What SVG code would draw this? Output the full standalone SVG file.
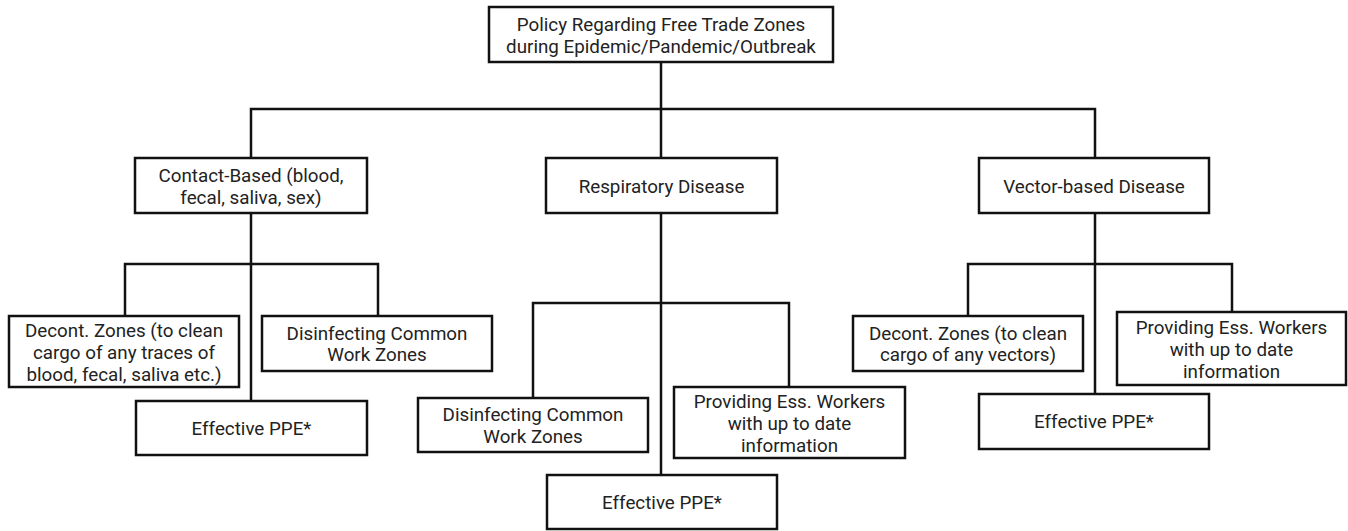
<svg xmlns="http://www.w3.org/2000/svg" width="1348" height="531" viewBox="0 0 1348 531">
  <style>
    .box { fill: #ffffff; stroke: #111111; stroke-width: 2.5; }
    .lbl { font-family: Roboto, "Liberation Sans", sans-serif; font-size: 18.8px; fill: #222222; text-anchor: middle; }
    .wire { fill: none; stroke: #111111; stroke-width: 2.5; stroke-linecap: square; }
  </style>
  <rect width="1348" height="531" fill="#ffffff"/>

  <!-- tree connectors -->
  <g id="connectors">
    <!-- root to categories -->
    <path class="wire" d="M661 62 V109 M251 109 H1095 M251 109 V158 M661 109 V158 M1095 109 V158"/>
    <!-- contact-based branch -->
    <path class="wire" d="M251 213 V401 M125 264 H378 M125 264 V316 M378 264 V316"/>
    <!-- respiratory branch -->
    <path class="wire" d="M661 213 V475 M533 303 H789 M533 303 V398 M789 303 V387"/>
    <!-- vector-based branch -->
    <path class="wire" d="M1095 213 V394 M968 264 H1232 M968 264 V316 M1232 264 V312"/>
  </g>

  <g id="root">
    <rect class="box" x="489" y="7" width="344" height="55"/>
    <text class="lbl" x="661" y="30.5">Policy Regarding Free Trade Zones</text>
    <text class="lbl" x="661" y="53">during Epidemic/Pandemic/Outbreak</text>
  </g>

  <g id="contact">
    <rect class="box" x="135" y="158" width="232" height="55"/>
    <text class="lbl" x="251" y="181.5">Contact-Based (blood,</text>
    <text class="lbl" x="251" y="203.5">fecal, saliva, sex)</text>
  </g>

  <g id="respiratory">
    <rect class="box" x="546" y="158" width="231" height="55"/>
    <text class="lbl" x="661.5" y="192.5">Respiratory Disease</text>
  </g>

  <g id="vector">
    <rect class="box" x="979" y="158" width="230" height="55"/>
    <text class="lbl" x="1094" y="192.5">Vector-based Disease</text>
  </g>

  <g id="contact-decont">
    <rect class="box" x="9" y="316" width="230" height="71"/>
    <text class="lbl" x="124" y="337">Decont. Zones (to clean</text>
    <text class="lbl" x="124" y="359">cargo of any traces of</text>
    <text class="lbl" x="124" y="381">blood, fecal, saliva etc.)</text>
  </g>

  <g id="contact-disinfect">
    <rect class="box" x="262" y="316" width="230" height="55"/>
    <text class="lbl" x="377" y="339.5">Disinfecting Common</text>
    <text class="lbl" x="377" y="361">Work Zones</text>
  </g>

  <g id="contact-ppe">
    <rect class="box" x="136" y="401" width="231" height="54"/>
    <text class="lbl" x="251.5" y="434.5">Effective PPE*</text>
  </g>

  <g id="resp-disinfect">
    <rect class="box" x="418" y="398" width="230" height="54"/>
    <text class="lbl" x="533" y="421">Disinfecting Common</text>
    <text class="lbl" x="533" y="443">Work Zones</text>
  </g>

  <g id="resp-info">
    <rect class="box" x="674" y="387" width="231" height="71"/>
    <text class="lbl" x="789.5" y="408">Providing Ess. Workers</text>
    <text class="lbl" x="789.5" y="430">with up to date</text>
    <text class="lbl" x="789.5" y="452">information</text>
  </g>

  <g id="resp-ppe">
    <rect class="box" x="547" y="475" width="230" height="54"/>
    <text class="lbl" x="662" y="508.5">Effective PPE*</text>
  </g>

  <g id="vector-decont">
    <rect class="box" x="853" y="316" width="230" height="55"/>
    <text class="lbl" x="968" y="339.5">Decont. Zones (to clean</text>
    <text class="lbl" x="968" y="361">cargo of any vectors)</text>
  </g>

  <g id="vector-info">
    <rect class="box" x="1117" y="312" width="229" height="73"/>
    <text class="lbl" x="1231.5" y="333.5">Providing Ess. Workers</text>
    <text class="lbl" x="1231.5" y="356">with up to date</text>
    <text class="lbl" x="1231.5" y="378">information</text>
  </g>

  <g id="vector-ppe">
    <rect class="box" x="979" y="394" width="230" height="55"/>
    <text class="lbl" x="1094" y="428">Effective PPE*</text>
  </g>
</svg>
